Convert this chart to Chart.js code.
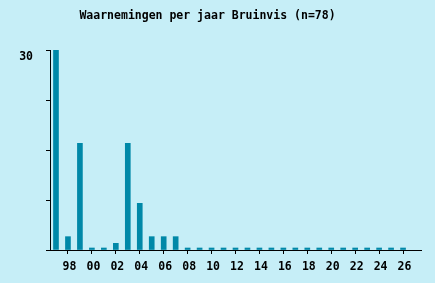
<!DOCTYPE html>
<html>
<head>
<meta charset="utf-8">
<script src="https://cdn.jsdelivr.net/npm/chart.js@4"></script>
<style>
    html, body { margin: 0; padding: 0; background: #c6eef7; }
    #wrap { width: 435px; height: 283px; }
</style>
</head>
<body>
<div id="wrap"><canvas id="yearChart" width="435" height="283"></canvas></div>
<script>
// --- DATA ---
const years = [1997, 1998, 1999, 2000, 2001, 2002, 2003, 2004, 2005, 2006,
               2007, 2008, 2009, 2010, 2011, 2012, 2013, 2014, 2015, 2016,
               2017, 2018, 2019, 2020, 2021, 2022, 2023, 2024, 2025, 2026];
const counts = [30, 2, 16, 0, 0, 1, 16, 7, 2, 2,
                2, 0, 0, 0, 0, 0, 0, 0, 0, 0,
                0, 0, 0, 0, 0, 0, 0, 0, 0, 0];
const labelYears = years.filter(y => y % 2 === 0);
const yTicks = [0, 7.5, 15, 22.5, 30];
const yLabels = { 30: '30' };
const title = 'Waarnemingen per jaar Bruinvis (n=78)';

const font = { family: 'DejaVu Sans Mono', size: 11.5, weight: 'bold' };

// title is drawn by hand, slightly left of the canvas centre like the original
const titlePlugin = {
    id: 'plainTitle',
    afterDraw(chart) {
        const ctx = chart.ctx;
        ctx.save();
        ctx.font = 'bold 11.5px "DejaVu Sans Mono"';
        ctx.fillStyle = '#000';
        ctx.textAlign = 'center';
        ctx.textBaseline = 'middle';
        ctx.fillText(title, chart.width / 2 - 10, 16);
        ctx.restore();
    }
};

const ctx = document.getElementById('yearChart').getContext('2d');
new Chart(ctx, {
    type: 'bar',
    data: {
        datasets: [{
            data: years.map((y, i) => ({ x: y, y: counts[i] })),
            backgroundColor: '#0088a8',
            barThickness: 5,
            minBarLength: 2
        }]
    },
    options: {
        responsive: false,
        animation: false,
        layout: { padding: { top: 50, right: 14, left: 0, bottom: 0 } },
        plugins: { legend: { display: false }, tooltip: { enabled: false }, title: { display: false } },
        scales: {
            x: {
                type: 'linear',
                offset: false,
                min: 1996.5,
                max: 2027.5,
                afterBuildTicks: s => { s.ticks = labelYears.map(v => ({ value: v })); },
                afterFit: s => { s.height = 33; },
                grid: { drawOnChartArea: false, offset: false, tickLength: 4, color: '#000' },
                border: { color: '#000', width: 1 },
                ticks: {
                    autoSkip: false,
                    maxRotation: 0,
                    padding: 6,
                    labelOffset: 1.5,
                    color: '#000',
                    font: font,
                    callback: v => String(v % 100).padStart(2, '0')
                }
            },
            y: {
                min: 0,
                max: 30,
                afterBuildTicks: s => { s.ticks = yTicks.map(v => ({ value: v })); },
                afterFit: s => { s.width = 50; },
                grid: { drawOnChartArea: false, tickLength: 4, color: '#000' },
                border: { color: '#000', width: 1 },
                ticks: {
                    padding: 13,
                    labelOffset: 7,
                    color: '#000',
                    font: font,
                    callback: v => yLabels[v] || ''
                }
            }
        }
    },
    plugins: [titlePlugin]
});
</script>
</body>
</html>
